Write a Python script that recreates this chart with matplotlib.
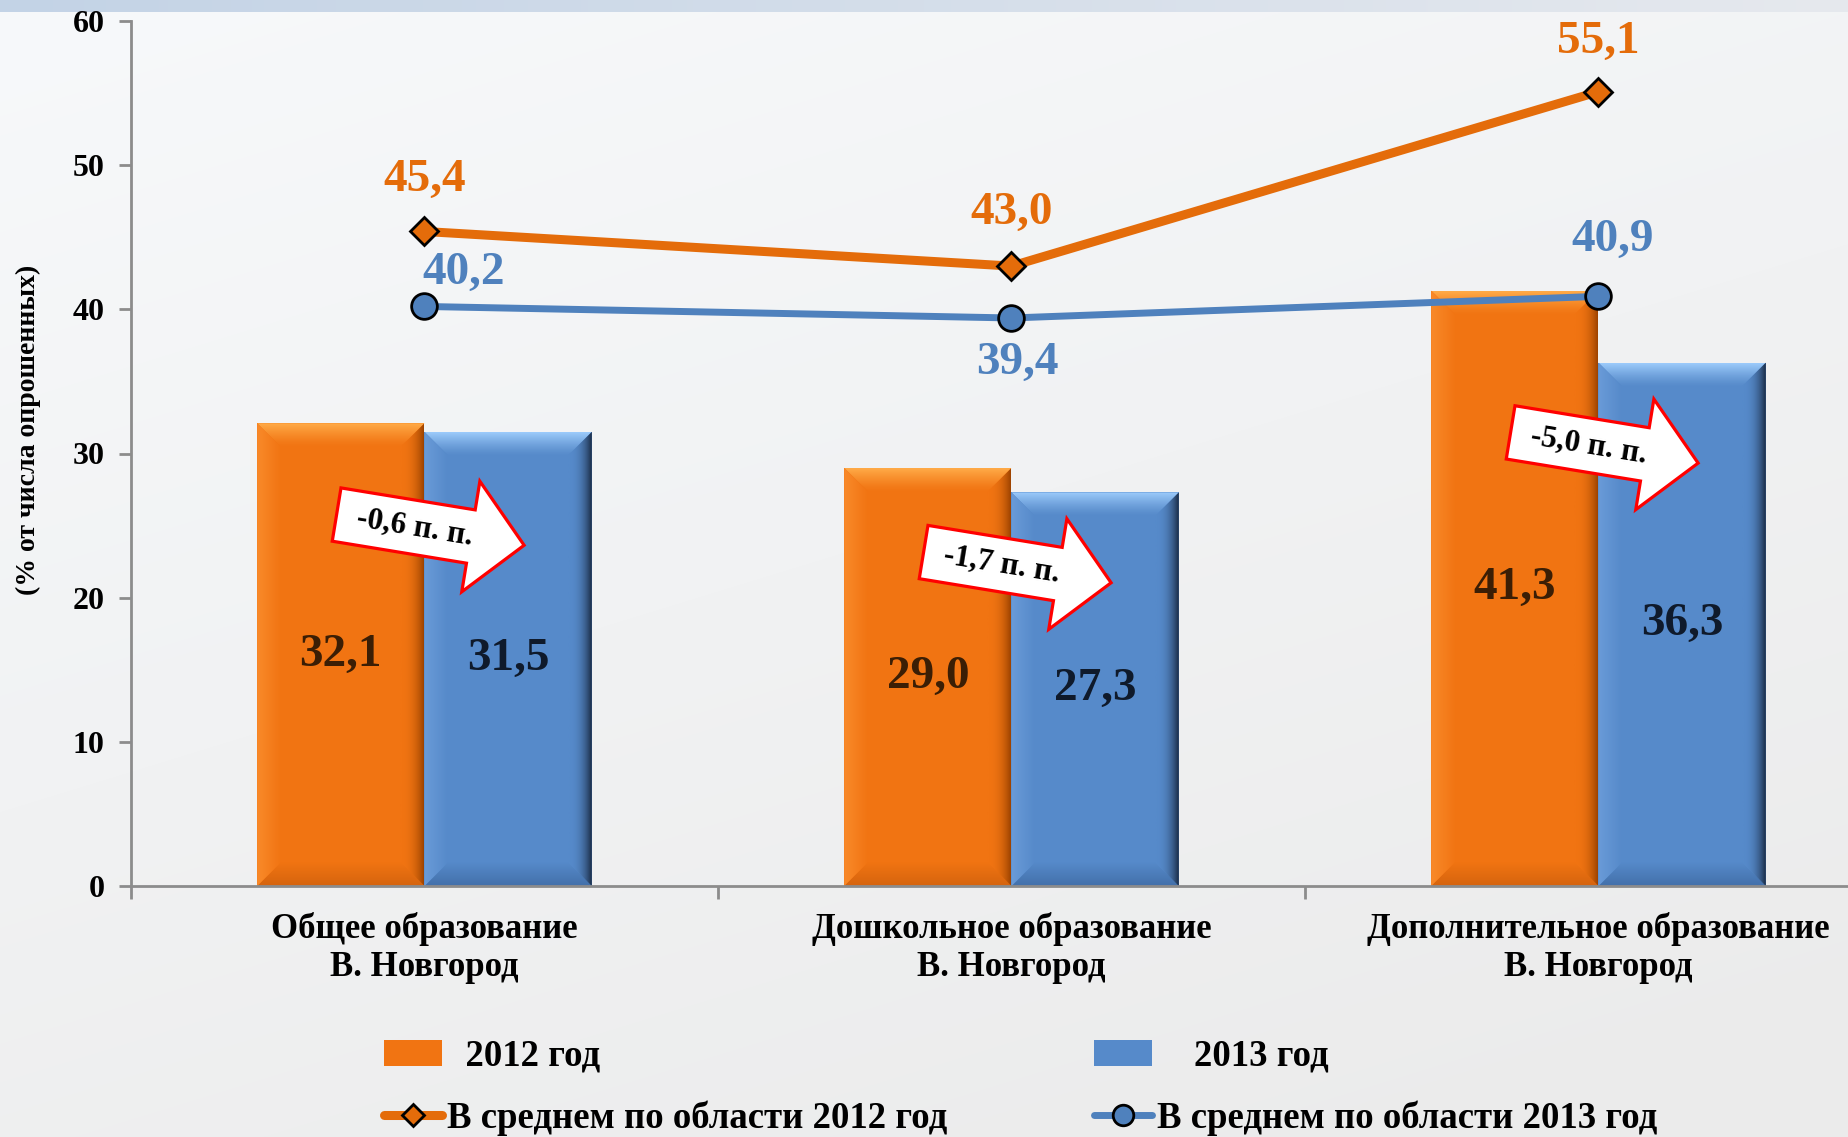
import numpy as np
import matplotlib
matplotlib.use('Agg')
import matplotlib.pyplot as plt
from matplotlib.patches import Polygon
from matplotlib.colors import LinearSegmentedColormap, to_rgb
from matplotlib.transforms import Affine2D, ScaledTranslation

plt.rcParams['font.family'] = ['Liberation Serif', 'DejaVu Serif']
plt.rcParams['font.weight'] = 'bold'

# --- данные ---
categories = ['Общее образование\nВ. Новгород',
              'Дошкольное образование\nВ. Новгород',
              'Дополнительное образование\nВ. Новгород']
share_2012 = [32.1, 29.0, 41.3]
share_2013 = [31.5, 27.3, 36.3]
region_2012 = [45.4, 43.0, 55.1]
region_2013 = [40.2, 39.4, 40.9]
arrow_y = [24.7, 22.1, 30.4]

ORANGE = '#f17412'
BLUE = '#568aca'
LINE_OR = '#e46c0a'
LINE_BL = '#4f81bd'


def fmt(v):
    return f'{v:.1f}'.replace('.', ',')


W, H, DPI = 1849, 1137, 100
fig = plt.figure(figsize=(W / DPI, H / DPI), dpi=DPI)

# фон: светлый градиент + голубая полоса сверху
yy = np.linspace(0, 1, H)[:, None]
xx = np.linspace(0, 1, W)[None, :]
c_top = np.array(to_rgb('#f7f9fb'))
c_bot = np.array(to_rgb('#ebebeb'))
t = np.clip(0.7 * yy + 0.35 * xx, 0, 1)[..., None]
bg = c_top * (1 - t) + c_bot * t
band_l = np.array(to_rgb('#c3d3e6'))
band_r = np.array(to_rgb('#e6e9ee'))
bxs = np.linspace(0, 1, W)[:, None]
bg[:12] = (band_l * (1 - bxs) + band_r * bxs)[None, :, :]
bg_ax = fig.add_axes([0, 0, 1, 1], zorder=-10)
bg_ax.imshow(bg, aspect='auto', extent=[0, 1, 0, 1], origin='upper')
bg_ax.axis('off')

ax = fig.add_axes([131 / W, 1 - 886 / H, (1892 - 131) / W, (886 - 21) / H])
ax.patch.set_alpha(0)

x = np.arange(len(categories))
bw = 0.285
XMIN, XMAX, YMAX = -0.5, 2.5, 60

# размер фаски в единицах данных
ax_w = ax.get_position().width * W
ax_h = ax.get_position().height * H
BEV = 24
bx = BEV / (ax_w / (XMAX - XMIN))
by = BEV / (ax_h / YMAX)


def grad_fill(poly, extent, grad, c0, c1):
    patch = Polygon(poly, closed=True, fc='none', ec='none')
    ax.add_patch(patch)
    cmap = LinearSegmentedColormap.from_list('bev', [c0, c1])
    im = ax.imshow(grad, extent=extent, cmap=cmap, vmin=0, vmax=1, origin='lower',
                   aspect='auto', interpolation='bilinear', zorder=2.5)
    im.set_clip_path(patch)


def bevel(x0, x1, h, base, light, dark, side, bottom):
    g = np.linspace(0, 1, 64)
    grad_fill([(x0, h), (x1, h), (x1 - bx, h - by), (x0 + bx, h - by)],
              [x0, x1, h - by, h], (g ** 1.3)[:, None], base, light)
    grad_fill([(x0, 0), (x1, 0), (x1 - bx, by), (x0 + bx, by)],
              [x0, x1, 0, by], g[:, None], bottom, base)
    grad_fill([(x1 - bx, by), (x1, 0), (x1, h), (x1 - bx, h - by)],
              [x1 - bx, x1, 0, h], (g ** 2.5)[None, :], base, dark)
    grad_fill([(x0, 0), (x0 + bx, by), (x0 + bx, h - by), (x0, h)],
              [x0, x0 + bx, 0, h], g[None, :], side, base)


b12 = ax.bar(x - bw / 2, share_2012, bw, color=ORANGE, label='  2012 год', zorder=2)
b13 = ax.bar(x + bw / 2, share_2013, bw, color=BLUE, label='    2013 год', zorder=2)

for xi, v in zip(x, share_2012):
    bevel(xi - bw, xi, v, ORANGE, '#ffab48', '#9c4300', '#f98a2a', '#d5640e')
    ax.text(xi - bw / 2, v / 2, fmt(v), ha='center', va='center', fontsize=34,
            color='#3b1e05', zorder=6)
for xi, v in zip(x, share_2013):
    bevel(xi, xi + bw, v, BLUE, '#9ccbfb', '#1a2b45', '#6a9bd8', '#4370aa')
    ax.text(xi + bw / 2, v / 2, fmt(v), ha='center', va='center', fontsize=34,
            color='#0f1a2b', zorder=6)

l12, = ax.plot(x, region_2012, color=LINE_OR, lw=6.5, marker='D', ms=14, mfc=LINE_OR,
               mec='black', mew=2, solid_capstyle='round', zorder=4,
               label='В среднем по области 2012 год')
l13, = ax.plot(x, region_2013, color=LINE_BL, lw=5, marker='o', ms=18.5, mfc=LINE_BL,
               mec='black', mew=2, solid_capstyle='round', zorder=4,
               label='В среднем по области 2013 год')

off_12 = [(0, 37), (0, 38), (0, 36)]
off_13 = [(28, 24), (4, -32), (10, 41)]
for xi, v, o in zip(x, region_2012, off_12):
    ax.annotate(fmt(v), (xi, v), xytext=o, textcoords='offset points', ha='center',
                va='center', fontsize=34, color=LINE_OR, zorder=6)
for xi, v, o in zip(x, region_2013, off_13):
    ax.annotate(fmt(v), (xi, v), xytext=o, textcoords='offset points', ha='center',
                va='center', fontsize=34, color=LINE_BL, zorder=6)


# стрелки с изменением в процентных пунктах
def change_arrow(xc, yc, text, angle=-9.3):
    half, sw, hw, hl = 95, 27, 56, 54
    verts = [(-half, sw), (half - hl, sw), (half - hl, hw), (half, 0),
             (half - hl, -hw), (half - hl, -sw), (-half, -sw)]
    tr = Affine2D().rotate_deg(angle) + ScaledTranslation(xc, yc, ax.transData)
    ax.add_patch(Polygon(verts, closed=True, transform=tr, facecolor='white',
                         edgecolor='#ff0000', lw=2.3, joinstyle='miter', zorder=5))
    ax.annotate(text, (xc, yc), xytext=(-11.5, 1.9), textcoords='offset points',
                rotation=angle, rotation_mode='anchor', ha='center', va='center',
                fontsize=22.5, color='black', zorder=6)


for xi, a, b, ya in zip(x, share_2012, share_2013, arrow_y):
    change_arrow(xi + 0.01, ya, f'{fmt(round(b - a, 1))} п. п.')

ax.set_xlim(XMIN, XMAX)
ax.set_ylim(0, YMAX)
ax.set_yticks(range(0, 61, 10))
ax.set_xticks([-0.5, 0.5, 1.5, 2.5])
ax.set_xticklabels([])
ax.set_xticks(x, minor=True)
ax.set_xticklabels(categories, minor=True)
ax.tick_params(axis='x', which='major', length=9, width=2, color='#8c8c8c')
ax.tick_params(axis='x', which='minor', length=0, pad=19, labelsize=25)
ax.tick_params(axis='y', length=9, width=2, color='#8c8c8c', pad=10, labelsize=23)
for s in ['top', 'right']:
    ax.spines[s].set_visible(False)
for s in ['left', 'bottom']:
    ax.spines[s].set_color('#8c8c8c')
    ax.spines[s].set_linewidth(2)

fig.text(28 / W, 1 - 430 / H, '(% от числа опрошенных)', rotation=90,
         ha='center', va='center', fontsize=20)

fig.legend(handles=[b12, l12, b13, l13], loc='upper left',
           bbox_to_anchor=(384 / W, 1 - 1039 / H), ncol=2, frameon=False, fontsize=26.5,
           handlelength=1.58, handletextpad=0.12, columnspacing=4.0, labelspacing=0.72,
           borderpad=0, borderaxespad=0, markerscale=0.8)

fig.savefig('out.png', dpi=DPI)
